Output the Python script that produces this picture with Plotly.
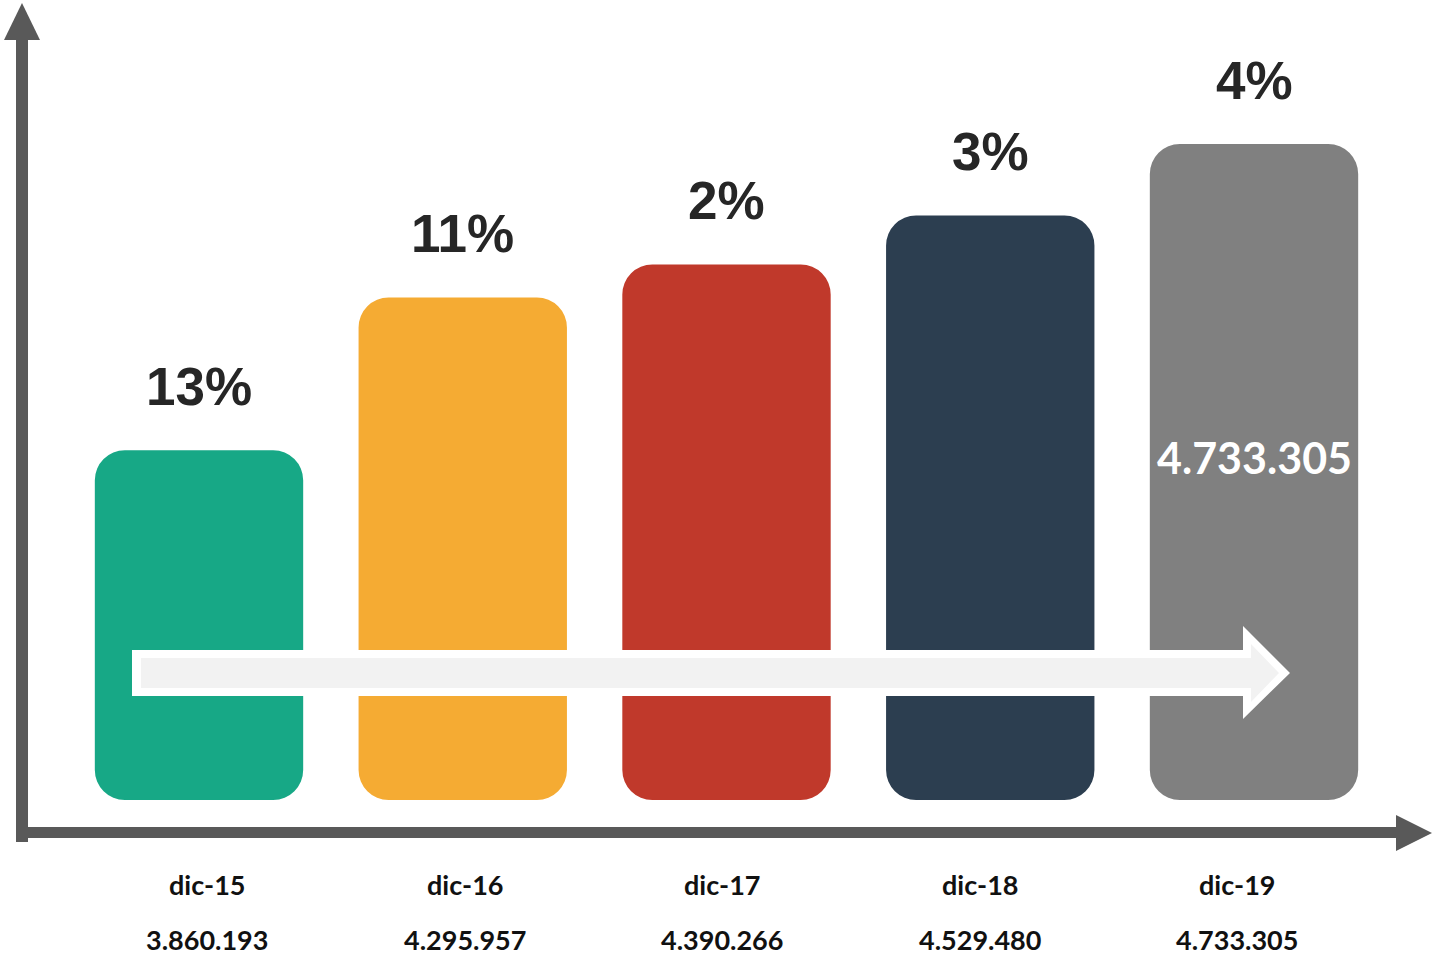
import plotly.graph_objects as go

# ---- data ----
categories = ["dic-15", "dic-16", "dic-17", "dic-18", "dic-19"]
values = [3860193, 4295957, 4390266, 4529480, 4733305]
growth = ["13%", "11%", "2%", "3%", "4%"]
colors = ["#17A886", "#F5AB33", "#C0392B", "#2C3E50", "#808080"]

W, H = 1434, 958

def fmt(v):
    return f"{v:,}".replace(",", ".")

# axis scaling (pixel layout of the reference)
px_per_unit_y = 350.7 / 1e6
baseline = 2.863e6           # value at which bars start
base_px = 800                # pixel row of bar bottoms
y0 = baseline - (H - base_px) / px_per_unit_y
y1 = baseline + base_px / px_per_unit_y

xs = list(range(len(categories)))
px_per_cat = 263.75
x0 = -199 / px_per_cat
x1 = x0 + W / px_per_cat

fig = go.Figure()
fig.add_trace(go.Bar(
    x=xs, y=[v - baseline for v in values], base=[baseline] * len(xs),
    marker=dict(color=colors, line=dict(width=0)), width=0.79,
    hoverinfo="skip", showlegend=False,
))

def P(x, y):
    return x / W, 1 - y / H

def path(points):
    s = ""
    for i, (x, y) in enumerate(points):
        px, py = P(x, y)
        s += ("M" if i == 0 else "L") + f"{px:.5f},{py:.5f} "
    return s + "Z"

shapes = []
axis_col = "#595959"
# y axis with arrow
shapes.append(dict(type="path", xref="paper", yref="paper", layer="above",
                   path=path([(16, 38), (28, 38), (28, 842), (16, 842)]),
                   fillcolor=axis_col, line=dict(width=0)))
shapes.append(dict(type="path", xref="paper", yref="paper", layer="above",
                   path=path([(22, 3), (40, 40), (4, 40)]),
                   fillcolor=axis_col, line=dict(width=0)))
# x axis with arrow
shapes.append(dict(type="path", xref="paper", yref="paper", layer="above",
                   path=path([(16, 827), (1397, 827), (1397, 838), (16, 838)]),
                   fillcolor=axis_col, line=dict(width=0)))
shapes.append(dict(type="path", xref="paper", yref="paper", layer="above",
                   path=path([(1396, 815), (1432, 833), (1396, 851)]),
                   fillcolor=axis_col, line=dict(width=0)))
# big trend arrow: white outline + light gray fill
shapes.append(dict(type="path", xref="paper", yref="paper", layer="above",
                   path=path([(132, 650), (1243, 650), (1243, 626), (1290, 673),
                              (1243, 719), (1243, 696), (132, 696)]),
                   fillcolor="#FFFFFF", line=dict(width=0)))
shapes.append(dict(type="path", xref="paper", yref="paper", layer="above",
                   path=path([(141, 658), (1251, 658), (1251, 644), (1279, 673),
                              (1251, 702), (1251, 688), (141, 688)]),
                   fillcolor="#F2F2F2", line=dict(width=0)))

annotations = []
for i, (c, v, g) in enumerate(zip(categories, values, growth)):
    annotations.append(dict(x=i, y=v, xref="x", yref="y", text=g, showarrow=False,
                            yanchor="middle", yshift=64,
                            font=dict(family="Liberation Sans", size=53,
                                      color="#262626", weight="bold")))
    annotations.append(dict(x=i, y=P(0, 884)[1], xref="x2", yref="paper", text=c,
                            showarrow=False, yanchor="middle",
                            font=dict(family="Lato", size=27, color="#111111",
                                      weight="bold")))
    annotations.append(dict(x=i, y=P(0, 939)[1], xref="x2", yref="paper", text=fmt(v),
                            showarrow=False, yanchor="middle",
                            font=dict(family="Lato", size=27, color="#111111",
                                      weight="bold")))
# value inside the last bar
annotations.append(dict(x=len(values) - 1, y=P(0, 458)[1], xref="x", yref="paper",
                        text=fmt(values[-1]), showarrow=False, yanchor="middle",
                        font=dict(family="Lato", size=43, color="#FFFFFF",
                                  weight="bold")))

# secondary x axis for bottom labels (evenly spaced slightly differently)
lab_step = 257.5
lx0 = -207 / lab_step
lx1 = lx0 + W / lab_step

fig.update_layout(
    width=W, height=H,
    margin=dict(l=0, r=0, t=0, b=0),
    paper_bgcolor="white", plot_bgcolor="white",
    barmode="overlay", barcornerradius=30,
    xaxis=dict(range=[x0, x1], visible=False, fixedrange=True),
    xaxis2=dict(range=[lx0, lx1], visible=False, overlaying="x", fixedrange=True),
    yaxis=dict(range=[y0, y1], visible=False, fixedrange=True),
    shapes=shapes, annotations=annotations,
    showlegend=False,
)

fig.write_html("out.html", config={"displayModeBar": False},
               post_script="document.body.style.margin='0';document.body.style.overflow='hidden';")
